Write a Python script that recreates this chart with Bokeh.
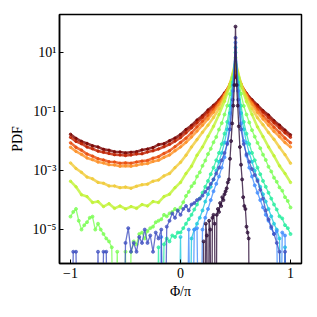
import numpy as np
from bokeh.plotting import figure
from bokeh.models import FixedTicker, Range1d
from bokeh.palettes import Turbo256
from bokeh.embed import file_html
from bokeh.resources import INLINE

# ---- bin centres (Phi/pi) ----
phi_coarse = np.linspace(-1.0, 1.0, 41)   # 0.05 bins
phi_fine = np.linspace(-1.0, 1.0, 81)     # 0.025 bins
phi_peak = [0.20, 0.21, 0.22, 0.23, 0.24, 0.25, 0.26, 0.27, 0.28, 0.29,
            0.30, 0.31, 0.32, 0.33, 0.34, 0.35, 0.36, 0.37, 0.38, 0.39,
            0.40, 0.41, 0.42, 0.43, 0.44, 0.45, 0.46, 0.47, 0.48, 0.49,
            0.50, 0.51, 0.52, 0.53, 0.54, 0.55, 0.56, 0.57, 0.58, 0.59,
            0.60, 0.61, 0.62, 0.63]

# ---- log10(PDF); None = empty bin ----
N = None
log_darkred = [-1.77,
    -1.91, -2.01, -2.08, -2.16, -2.20, -2.28, -2.31, -2.36, -2.37, -2.40,
    -2.38, -2.36, -2.30, -2.27, -2.22, -2.12, -2.09, -1.99, -1.90,
    -1.78,
    -1.61, -1.47, -1.29, -1.14, -0.95, -0.79, -0.61, -0.37, -0.12,
    0.20,
    -0.11, -0.39, -0.60, -0.78, -0.97, -1.12, -1.31, -1.46, -1.63, -1.79]
log_red = [-1.87,
    -2.01, -2.09, -2.20, -2.26, -2.34, -2.38, -2.42, -2.46, -2.47, -2.49,
    -2.47, -2.44, -2.43, -2.37, -2.33, -2.27, -2.19, -2.11, -2.00,
    -1.88,
    -1.72, -1.55, -1.38, -1.20, -1.02, -0.84, -0.64, -0.40, -0.10,
    0.28,
    -0.10, -0.40, -0.64, -0.84, -1.02, -1.20, -1.38, -1.55, -1.72, -1.87]
log_orangered = [-2.06,
    -2.21, -2.31, -2.44, -2.51, -2.60, -2.64, -2.70, -2.71, -2.75, -2.74,
    -2.75, -2.71, -2.68, -2.66, -2.58, -2.53, -2.42, -2.33, -2.19,
    -2.05,
    -1.90, -1.72, -1.52, -1.33, -1.14, -0.93, -0.70, -0.42, -0.08,
    0.36,
    -0.08, -0.43, -0.70, -0.93, -1.15, -1.33, -1.53, -1.71, -1.90, -2.06]
log_orange = [-2.21,
    -2.35, -2.45, -2.57, -2.63, -2.71, -2.74, -2.80, -2.81, -2.85, -2.84,
    -2.85, -2.82, -2.78, -2.76, -2.69, -2.65, -2.55, -2.47, -2.33,
    -2.20,
    -2.04, -1.86, -1.66, -1.46, -1.25, -1.02, -0.76, -0.45, -0.06,
    0.42,
    -0.06, -0.46, -0.75, -1.03, -1.25, -1.46, -1.67, -1.85, -2.05, -2.20]
log_yellow = [-2.74,
    -2.93, -3.06, -3.22, -3.28, -3.40, -3.43, -3.52, -3.52, -3.58, -3.56,
    -3.60, -3.53, -3.48, -3.46, -3.36, -3.32, -3.18, -3.10, -2.90,
    -2.72,
    -2.48, -2.20, -1.95, -1.70, -1.46, -1.20, -0.90, -0.52, -0.05,
    0.60,
    -0.05, -0.53, -0.90, -1.21, -1.45, -1.71, -1.94, -2.21, -2.46, -2.75]
log_lime = [-3.36,
    -3.55, -3.82, -3.88, -4.08, -4.05, -4.22, -4.12, -4.28, -4.20, -4.30,
    -4.22, -4.28, -4.15, -4.20, -4.05, -4.08, -3.88, -3.80, -3.58,
    -3.40,
    -3.10, -2.85, -2.48, -2.20, -1.84, -1.50, -1.10, -0.65, -0.10,
    0.70,
    -0.10, -0.66, -1.10, -1.52, -1.85, -2.20, -2.50, -2.84, -3.10, -3.40]
log_green = [-4.56, -4.40, -4.30, -4.70, -5.00, -4.85, -4.75, -4.60, -4.56, -5.00,
    -4.80, -5.00, -5.15, -5.30, -5.40, -5.60, N, -5.75, N, N,
    -5.75, N, -5.75, -5.40, -5.50, -5.15, -5.10, -5.30, -5.05, -4.95,
    -4.90, -4.75, -4.70, -4.65, -4.50, -4.55, -4.45, -4.40, -4.30, -4.35,
    -4.25,
    -4.07, -3.86, -3.72, -3.53, -3.42, -3.20, -3.06, -2.84, -2.66, -2.44,
    -2.26, -2.04, -1.86, -1.61, -1.39, -1.10, -0.80, -0.41, 0.15,
    0.83,
    0.15, -0.40, -0.81, -1.10, -1.37, -1.63, -1.85, -2.06, -2.24, -2.46,
    -2.64, -2.87, -3.03, -3.24, -3.38, -3.57, -3.68, -3.90, -4.03, -4.25]
log_teal = [N, N, N, N, N, N, N, N, N, N,
    N, N, N, N, N, N, N, N, N, N,
    N, N, N, N, N, N, N, N, N, N,
    N, N, -5.60, N, -5.50, -5.30, -5.40, -5.20, -5.25, -5.10,
    -5.10,
    -4.95, -4.80, -4.65, -4.50, -4.32, -4.15, -3.95, -3.75, -3.55, -3.35,
    -3.12, -2.90, -2.65, -2.40, -2.10, -1.75, -1.35, -0.80, 0.00,
    1.00,
    0.00, -0.80, -1.35, -1.75, -2.10, -2.40, -2.65, -2.90, -3.12, -3.35,
    -3.55, -3.75, -3.95, -4.15, -4.32, -4.55, -4.62, -4.85, -4.95, -5.15]
log_cyan = [N, N, N, N, N, N, N, N, N, N,
    N, N, N, N, N, N, N, N, N, N,
    N, N, N, N, N, N, N, N, N, N,
    N, N, N, N, N, N, N, N, N, N,
    -5.25,
    N, N, N, -5.30, -5.00, -4.80, -4.60, -4.35, -4.05, -3.80,
    -3.55, -3.30, -3.00, -2.70, -2.40, -2.05, -1.60, -1.05, -0.10,
    1.17,
    -0.10, -1.05, -1.60, -2.05, -2.40, -2.70, -3.00, -3.30, -3.55, -3.80,
    -4.05, -4.30, -4.55, -4.80, -5.00, -5.30, N, -5.60, N, N]
log_lightblue = [N, N, N, N, N, N, N, N, N, N,
    N, N, N, N, N, N, N, N, N, N,
    N, N, N, N, N, N, N, N, N, N,
    N, N, N, -5.25, N, N, N, N, N, N,
    N,
    N, N, -5.00, N, -5.00, -4.95, N, -5.00, -4.60, -4.30,
    -4.00, -3.70, -3.45, -3.20, -2.90, -2.55, -2.05, -1.40, -0.30,
    1.34,
    -0.30, -1.40, -2.00, -2.50, -2.90, -3.20, -3.50, -3.75, -4.00, -4.25,
    -4.50, -4.70, -4.95, -5.15, -5.05, N, -5.10, -5.20, N, N]
log_bluepurple = [N, -5.75, -5.75, N, N, N, N, N, N, N,
    -5.75, N, -5.75, -5.75, N, N, N, N, N, N,
    -5.45, -4.95, -5.75, -5.45, -5.75, -5.25, -5.45, -5.00, -5.45, -5.20,
    -5.75, -5.10, -5.30, -5.00, N, -4.90, -4.70, -4.45, -4.60, -4.35,
    -4.50,
    -4.30, -4.20, -4.35, -4.15, -4.10, -4.00, -3.95, -3.85, -3.72, -3.60,
    -3.45, -3.30, -3.10, -2.90, -2.65, -2.40, -2.10, -1.60, -0.60,
    1.50,
    -0.60, -1.60, -2.10, -2.45, -2.70, -2.95, -3.15, -3.35, -3.65, -3.95,
    -4.35, -4.65, -4.90, -5.15, -5.45, -5.75, N, -5.75, N, N]
log_purple = [N, -5.40, N, -4.80, -5.20, N, -4.70, -5.00, N, -4.60,
    -4.50, -4.80, N, -4.50, -4.30, -4.40, -4.10, -4.20, -3.90, -4.00,
    -3.80, -3.70, -3.60, -3.40, -3.30, -2.60, -2.00, -1.40, -0.80, -0.10,
    1.88,
    -0.10, -0.80, -1.50, -2.20, -2.80, -3.30, -3.90, -4.20, -4.30, -4.90,
    -5.10, -5.30, N]

# curves from narrowest (dark) to widest (dark red)
curves = [
    (phi_peak, log_purple),
    (phi_fine, log_bluepurple),
    (phi_fine, log_lightblue),
    (phi_fine, log_cyan),
    (phi_fine, log_teal),
    (phi_fine, log_green),
    (phi_coarse, log_lime),
    (phi_coarse, log_yellow),
    (phi_coarse, log_orange),
    (phi_coarse, log_orangered),
    (phi_coarse, log_red),
    (phi_coarse, log_darkred),
]

y_ticks = [1e-5, 1e-3, 1e-1, 1e1]
y_tick_labels = ["10\u207b\u2075", "10\u207b\u00b3", "10\u207b\u00b9", "10\u00b9"]
x_ticks = [-1, 0, 1]
x_tick_labels = ["\u22121", "0", "1"]

FONT = "Liberation Serif"

p = figure(width=303, height=305, y_axis_type="log",
           x_range=Range1d(-1.1, 1.1), y_range=Range1d(7.1e-7, 195),
           output_backend="svg", toolbar_location=None,
           min_border_left=59, min_border_right=2,
           min_border_top=14, min_border_bottom=42)
p.grid.visible = False
p.outline_line_color = "black"
p.outline_line_width = 1.5
p.background_fill_color = "white"
p.border_fill_color = "white"

n = len(curves)
palette = [Turbo256[round(i * 255 / (n - 1))] for i in range(n)]

for i in reversed(range(n)):
    xs, ls = curves[i]
    ys = [10.0 ** v if v is not None else 1e-12 for v in ls]
    xs = list(xs)
    coarse = len(xs) == 41
    p.line(xs, ys, line_color=palette[i], line_width=2.6 if coarse else 1.3,
           line_alpha=0.8)
    p.scatter(xs, ys, size=2.5 if coarse else 3, fill_color=palette[i],
              line_color=palette[i], fill_alpha=0.75, line_alpha=0.75)

p.xaxis.ticker = FixedTicker(ticks=x_ticks)
p.xaxis.major_label_overrides = {t: s for t, s in zip(x_ticks, x_tick_labels)}
p.yaxis.ticker = FixedTicker(ticks=y_ticks)
p.yaxis.major_label_overrides = {t: s for t, s in zip(y_ticks, y_tick_labels)}

for ax in (p.xaxis, p.yaxis):
    ax.major_tick_in = 4
    ax.major_tick_out = 0
    ax.minor_tick_line_color = None
    ax.axis_line_width = 1.5
    ax.major_tick_line_width = 1
    ax.major_label_text_font = FONT
    ax.major_label_text_font_size = "14px"
    ax.major_label_text_color = "black"
    ax.axis_label_text_font = FONT
    ax.axis_label_text_font_size = "14px"
    ax.axis_label_text_font_style = "normal"
    ax.axis_label_text_color = "black"

p.xaxis.axis_label = "\u03a6/\u03c0"
p.yaxis.axis_label = "PDF"
p.xaxis.major_label_standoff = 4
p.yaxis.major_label_standoff = 3
p.xaxis.axis_label_standoff = 3
p.yaxis.axis_label_standoff = 5

open("out.html", "w").write(file_html(p, INLINE))
